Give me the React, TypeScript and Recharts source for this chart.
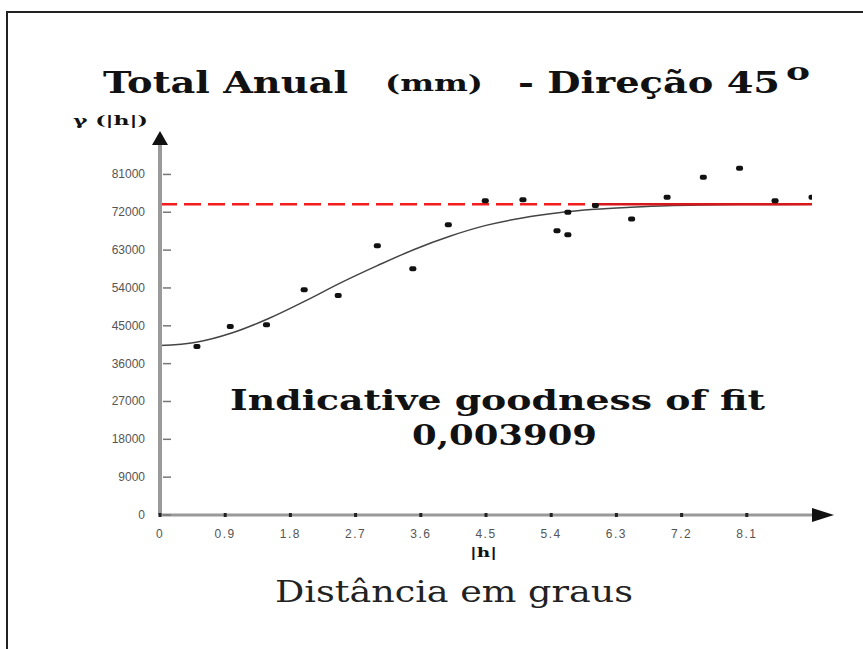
import React from 'react';
import { ComposedChart, Line, Scatter, XAxis, YAxis, ReferenceLine, ReferenceDot } from 'recharts';

// fitted model curve
const curveH = [0, 0.5, 1, 1.5, 2, 2.5, 3, 3.5, 4, 4.5, 5, 5.5, 6, 6.5, 7, 7.5, 8, 8.5, 9];
const curveGamma = [40300, 41080, 43330, 46730, 50860, 55260, 59300, 63100, 66300, 68880, 70660, 71890, 72690, 73190, 73570, 73740, 73820, 73860, 73890];

// experimental semivariogram points
const pointH = [0.51, 0.97, 1.47, 1.99, 2.46, 3.0, 3.49, 3.98, 4.49, 5.01, 5.48, 5.63, 5.63, 6.01, 6.51, 7.0, 7.5, 8.0, 8.49, 9.0];
const pointGamma = [40070, 44830, 45240, 53570, 52210, 64050, 58570, 69050, 74760, 75000, 67620, 66670, 72000, 73600, 70400, 75550, 80310, 82500, 74760, 75550];

const xTicks = [0, 0.9, 1.8, 2.7, 3.6, 4.5, 5.4, 6.3, 7.2, 8.1];
const yTicks = [0, 9000, 18000, 27000, 36000, 45000, 54000, 63000, 72000, 81000];

const sill = 73900;
const sillDashEnd = 6.0;
const xMax = 9;
const yMax = 88000;

const curveData = curveH.map((h, i) => ({ h, g: curveGamma[i] }));
const pointData = pointH.map((h, i) => ({ h, g: pointGamma[i] }));

const serif = 'DejaVu Serif, serif';

const YTick = (props: any) => {
  const { x, y, payload } = props;
  return (
    <g>
      <text x={x} y={y} dy={4} textAnchor="end" fontSize={12} fill="#555" fontFamily="Liberation Sans, Arial, sans-serif">
        {payload.value}
      </text>
      <line x1={x + 18} x2={x + 26} y1={y} y2={y} stroke="#777" strokeWidth={1.5} />
    </g>
  );
};

const XTick = (props: any) => {
  const { x, y, payload } = props;
  return (
    <g>
      <rect x={x - 1.5} y={y - 16} width={3} height={4} fill="#222" />
      <text x={x} y={y + 9} textAnchor="middle" fontSize={12} fill="#555" letterSpacing={1.5} fontFamily="Liberation Sans, Arial, sans-serif">
        {String(payload.value)}
      </text>
    </g>
  );
};

const PointMark = (props: any) => (
  <rect x={props.cx - 3.5} y={props.cy - 2.5} width={7} height={5} rx={2} fill="#111" />
);

const ArrowRight = (props: any) => (
  <polygon points={`${props.cx},${props.cy - 7} ${props.cx + 22},${props.cy} ${props.cx},${props.cy + 7}`} fill="#111" />
);

const ArrowUp = (props: any) => (
  <polygon points={`${props.cx - 8},${props.cy} ${props.cx},${props.cy - 14} ${props.cx + 8},${props.cy}`} fill="#111" />
);

export default function App() {
  return (
    <div style={{ position: 'absolute', left: 0, top: 0, width: 863, height: 649, overflow: 'hidden', background: '#fff' }}>
      <div style={{ position: 'absolute', left: 6, top: 11, width: 900, height: 700, border: '2px solid #222' }} />
      <div style={{ position: 'absolute', left: 0, top: 0 }}>
        <ComposedChart width={863} height={649} margin={{ top: 145, right: 51, bottom: 104, left: 100 }}>
          <XAxis
            type="number"
            dataKey="h"
            domain={[0, xMax]}
            ticks={xTicks}
            allowDataOverflow
            height={30}
            axisLine={{ stroke: '#999', strokeWidth: 3 }}
            tickLine={false}
            tickSize={0}
            tickMargin={14}
            tick={<XTick />}
            interval={0}
          />
          <YAxis
            type="number"
            dataKey="g"
            domain={[0, yMax]}
            ticks={yTicks}
            allowDataOverflow
            width={60}
            axisLine={{ stroke: '#9a9a9a', strokeWidth: 4 }}
            tickLine={false}
            tickSize={0}
            tickMargin={15}
            tick={<YTick />}
            interval={0}
          />
          <Line
            data={curveData}
            dataKey="g"
            type="monotone"
            stroke="#444"
            strokeWidth={1.5}
            dot={false}
            activeDot={false}
            isAnimationActive={false}
          />
          <ReferenceLine
            segment={[{ x: 0, y: sill }, { x: sillDashEnd, y: sill }]}
            stroke="#f21c1c"
            strokeWidth={2.5}
            strokeDasharray="17 7"
            ifOverflow="visible"
          />
          <ReferenceLine
            segment={[{ x: sillDashEnd, y: sill }, { x: xMax, y: sill }]}
            stroke="#d81818"
            strokeWidth={2.5}
            ifOverflow="visible"
          />
          <Scatter data={pointData} dataKey="g" shape={<PointMark />} isAnimationActive={false} />
          <ReferenceDot x={xMax} y={0} r={0} shape={<ArrowRight />} ifOverflow="visible" />
          <ReferenceDot x={0} y={yMax} r={0} shape={<ArrowUp />} ifOverflow="visible" />
        </ComposedChart>
      </div>
      <svg width={863} height={649} style={{ position: 'absolute', left: 0, top: 0, pointerEvents: 'none' }}>
        <g style={{ fontFamily: serif }} fontWeight="bold" fill="#111">
          <text x={103} y={93} fontSize={30} textLength={245} lengthAdjust="spacingAndGlyphs">Total Anual</text>
          <text x={385} y={91} fontSize={23} textLength={98} lengthAdjust="spacingAndGlyphs">(mm)</text>
          <text x={518} y={93} fontSize={30} textLength={262} lengthAdjust="spacingAndGlyphs">- Direção 45</text>
          <text x={786} y={80} fontSize={24} textLength={24} lengthAdjust="spacingAndGlyphs">o</text>
          <text x={230} y={410} fontSize={27} textLength={535} lengthAdjust="spacingAndGlyphs">Indicative goodness of fit</text>
          <text x={412} y={445} fontSize={27} textLength={185} lengthAdjust="spacingAndGlyphs">0,003909</text>
          <text x={470} y={557} fontSize={12} textLength={27} lengthAdjust="spacingAndGlyphs">|h|</text>
          <text x={73} y={125} fontSize={12} textLength={75} lengthAdjust="spacingAndGlyphs">γ (|h|)</text>
        </g>
        <text x={275} y={602} style={{ fontFamily: serif }} fontSize={30} fill="#222" textLength={358} lengthAdjust="spacingAndGlyphs">
          Distância em graus
        </text>
      </svg>
    </div>
  );
}
